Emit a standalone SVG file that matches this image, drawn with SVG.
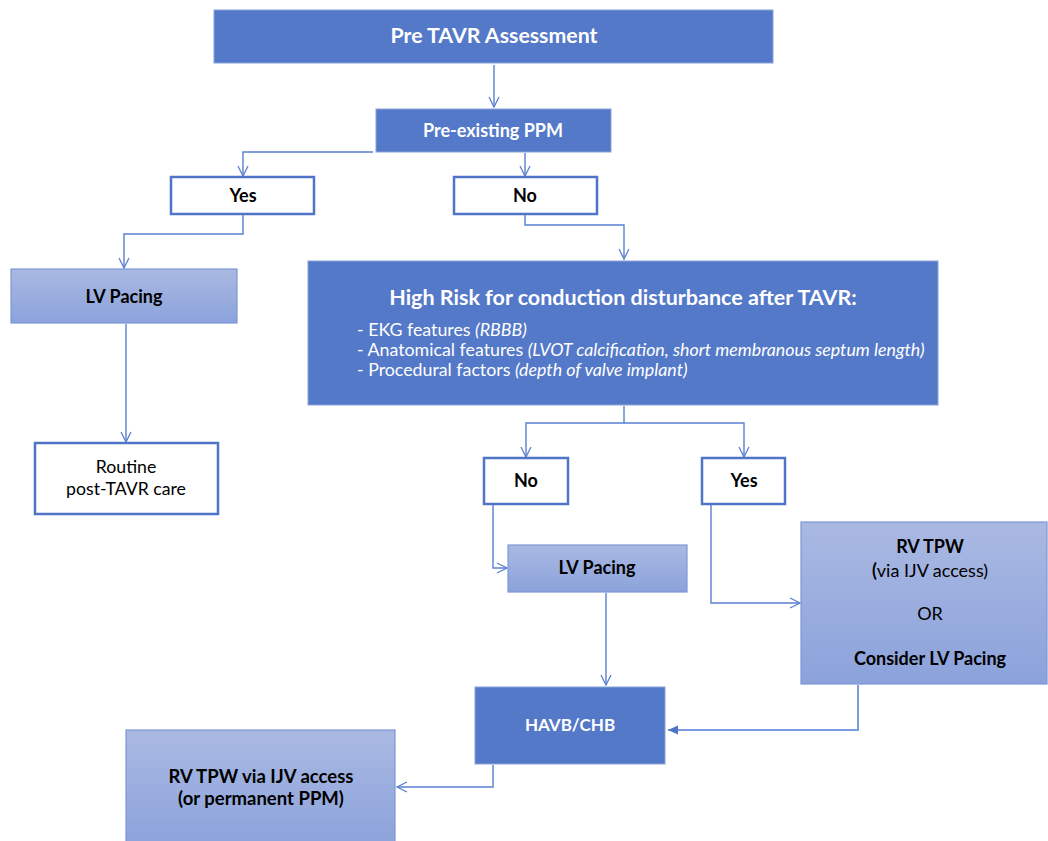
<svg xmlns="http://www.w3.org/2000/svg" width="1048" height="841" viewBox="0 0 1048 841">
<defs>
<linearGradient id="lg" x1="0" y1="0" x2="0" y2="1">
<stop offset="0" stop-color="#AAB9E2"/>
<stop offset="1" stop-color="#8BA2DB"/>
</linearGradient>
<marker id="open" viewBox="0 0 12 12" refX="11" refY="6" markerWidth="12" markerHeight="12" markerUnits="userSpaceOnUse" orient="auto">
<path d="M1,1 L11,6 L1,11" fill="none" stroke="#5A80D0" stroke-width="1.3"/>
</marker>
<marker id="solid" viewBox="0 0 12 12" refX="11" refY="6" markerWidth="12" markerHeight="12" markerUnits="userSpaceOnUse" orient="auto">
<path d="M1,1.5 L11,6 L1,10.5 Z" fill="#4D74C8"/>
</marker>
<style>
.dark{fill:#5479C8;stroke:#8AA3DB;stroke-width:1}
.white{fill:#fff;stroke:#4F74C8;stroke-width:2.5}
.grad{fill:url(#lg);stroke:#7C97D6;stroke-width:1.2}
.c{fill:none;stroke:#5A80D0;stroke-width:1.4}
.c2{fill:none;stroke:#7A9BDD;stroke-width:2}
text{font-family:Lato,"Open Sans","Liberation Sans",sans-serif}
.tw{fill:#fff;font-weight:bold;text-anchor:middle}
.tb{fill:#000;font-weight:bold;text-anchor:middle}
.tn{fill:#000;text-anchor:middle}
.bl{fill:#fff;font-size:17.8px}
</style>
</defs>
<rect width="1048" height="841" fill="#fff"/>

<g id="connectors">
<path class="c" d="M494,65 V107" marker-end="url(#open)"/>
<path class="c" d="M373,152 H243 V176" marker-end="url(#open)"/>
<path class="c" d="M525,153 V176" marker-end="url(#open)"/>
<path class="c" d="M243,215 V234 H124 V268" marker-end="url(#open)"/>
<path class="c" d="M525,215 V225 H624 V259" marker-end="url(#open)"/>
<path class="c" d="M126,324 V442" marker-end="url(#open)"/>
<path class="c" d="M624,406 V423 H526 V457" marker-end="url(#open)"/>
<path class="c" d="M624,423 H744 V457" marker-end="url(#open)"/>
<path class="c" d="M493,505 V568 H507" marker-end="url(#open)"/>
<path class="c" d="M711,505 V603 H800" marker-end="url(#open)"/>
<path class="c" d="M606,593 V685" marker-end="url(#open)"/>
<path class="c2" d="M858,685 V730 H668" marker-end="url(#solid)"/>
<path class="c" d="M493,765 V787 H397" marker-end="url(#open)"/>
</g>

<g id="pre-tavr">
<rect class="dark" x="214" y="10" width="559" height="53"/>
<text class="tw" x="494" y="43" font-size="21.3">Pre TAVR Assessment</text>
</g>
<g id="pre-existing-ppm">
<rect class="dark" x="376" y="109" width="235" height="43"/>
<text class="tw" x="493" y="137" font-size="18">Pre-existing PPM</text>
</g>
<g id="yes1">
<rect class="white" x="171" y="177" width="143" height="37"/>
<text class="tb" x="243" y="202" font-size="18">Yes</text>
</g>
<g id="no1">
<rect class="white" x="454" y="177" width="143" height="37"/>
<text class="tb" x="525" y="202" font-size="18">No</text>
</g>
<g id="lv-pacing-1">
<rect class="grad" x="11" y="269" width="226" height="54"/>
<text class="tb" x="124" y="303" font-size="18">LV Pacing</text>
</g>
<g id="high-risk">
<rect class="dark" x="308" y="261" width="630" height="144"/>
<text class="tw" x="623" y="305" font-size="21.5">High Risk for conduction disturbance after TAVR:</text>
<text class="bl" x="357" y="336">- EKG features <tspan font-style="italic">(RBBB)</tspan></text>
<text class="bl" x="357" y="356">- Anatomical features <tspan font-style="italic">(LVOT calcification, short membranous septum length)</tspan></text>
<text class="bl" x="357" y="376">- Procedural factors <tspan font-style="italic">(depth of valve implant)</tspan></text>
</g>
<g id="routine">
<rect class="white" x="35" y="443" width="183" height="71"/>
<text class="tn" x="126" y="473" font-size="17.7">Routine</text>
<text class="tn" x="126" y="495" font-size="17.7">post-TAVR care</text>
</g>
<g id="no2">
<rect class="white" x="484" y="458" width="84" height="46"/>
<text class="tb" x="526" y="487" font-size="18">No</text>
</g>
<g id="yes2">
<rect class="white" x="702" y="458" width="83" height="46"/>
<text class="tb" x="744" y="487" font-size="18">Yes</text>
</g>
<g id="lv-pacing-2">
<rect class="grad" x="508" y="545" width="179" height="47"/>
<text class="tb" x="597" y="574" font-size="18">LV Pacing</text>
</g>
<g id="rv-tpw-or-lv">
<rect class="grad" x="801" y="522" width="246" height="162"/>
<text class="tb" x="930" y="553" font-size="18">RV TPW</text>
<text class="tn" x="930" y="577" font-size="18"><tspan font-weight="bold">(</tspan>via IJV access)</text>
<text class="tn" x="930" y="620" font-size="18">OR</text>
<text class="tb" x="930" y="665" font-size="18">Consider LV Pacing</text>
</g>
<g id="havb-chb">
<rect class="dark" x="475" y="687" width="190" height="77"/>
<text class="tw" x="570" y="731" font-size="17">HAVB/CHB</text>
</g>
<g id="rv-tpw-final">
<rect class="grad" x="126" y="730" width="269" height="118"/>
<text class="tb" x="261" y="783" font-size="18.5">RV TPW via IJV access</text>
<text class="tb" x="261" y="805" font-size="18.5">(or permanent PPM)</text>
</g>
</svg>
